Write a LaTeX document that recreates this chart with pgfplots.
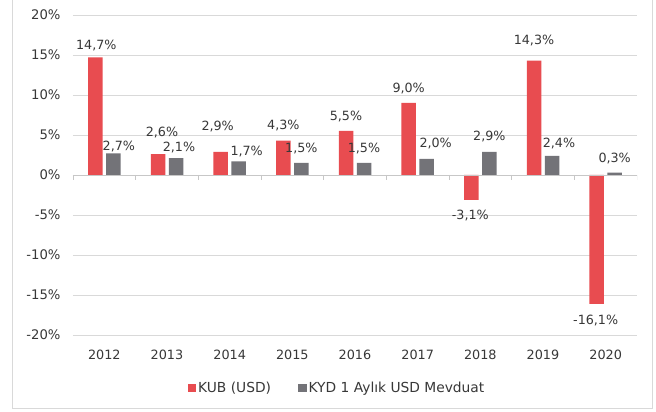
\documentclass[border=0pt]{standalone}
\usepackage{pgfplots}
\usepackage{pgfplotstable}
\pgfplotsset{compat=1.18}
\usepackage{fontspec}
\setmainfont{DejaVu Sans}
\definecolor{kred}{RGB}{232,76,80}
\definecolor{kgray}{RGB}{115,115,120}
\definecolor{gridc}{RGB}{217,217,217}
\definecolor{txt}{RGB}{56,56,56}
\pgfplotstableread{
x y dx dy
0 14.7 1 12
1 2.6 4 22
2 2.9 -3 25
3 4.3 0 15
4 5.5 0 14
5 9.0 0 14
6 -3.1 -1 -16
7 14.3 0 20
8 -16.1 -1 -17
}\kub
\pgfplotstableread{
x y dx dy
0 2.7 5.5 7
1 2.1 3 11
2 1.7 8 10
3 1.5 0 14
4 1.5 0 14
5 2.0 9 15
6 2.9 0 15
7 2.4 7 12
8 0.3 0 14
}\kyd
\begin{document}
\begin{tikzpicture}[font=\fontsize{12.5}{15}\selectfont]
\path[use as bounding box] (0,0) rectangle (656pt,412pt);
\fill[white] (0,0) rectangle (656pt,412pt);
\draw[gridc, line width=1pt] (12pt,3.5pt) rectangle (652pt,413pt);
\begin{axis}[
  at={(73pt,77pt)}, anchor=south west,
  scale only axis, width=564pt, height=320pt,
  ybar=3.5pt, bar width=14.5pt,
  xmin=-0.5, xmax=8.5, ymin=-20, ymax=20,
  ytick={-20,-15,...,20},
  xtick={0,...,8},
  xticklabels={2012,2013,2014,2015,2016,2017,2018,2019,2020},
  axis line style={draw=none},
  major tick length=0pt,
  ymajorgrids, grid style={gridc, line width=0.8pt},
  /pgf/number format/assume math mode=true,
  yticklabel={\pgfmathprintnumber{\tick}\%},
  yticklabel style={xshift=-9pt, text=txt, font=\fontsize{13.2}{15}\selectfont},
  xticklabel style={yshift=-11pt, text=txt, font=\fontsize{12.8}{15}\selectfont},
  visualization depends on={\thisrow{dx}\as\ddx},
  visualization depends on={\thisrow{dy}\as\ddy},
  nodes near coords={\pgfmathprintnumber[fixed,fixed zerofill,precision=1,use comma]{\pgfplotspointmeta}\%},
  every node near coord/.append style={text=txt, font=\fontsize{12.7}{15}\selectfont,
    anchor=center, xshift=\ddx pt, yshift=\ddy pt},
  legend style={at={(0.468,-0.166)}, anchor=center, draw=none, fill=none,
    legend columns=2, font=\fontsize{13.8}{16}\selectfont, text=txt,
    /tikz/every even column/.append style={column sep=25pt},
    /tikz/every odd column/.append style={inner xsep=0pt}},
  legend image code/.code={\fill[#1] (0pt,-4.3pt) rectangle (8.6pt,4.3pt);},
]
\addplot[fill=kred, draw=none] table[x=x, y=y] {\kub};
\addlegendentry{KUB (USD)}
\addplot[fill=kgray, draw=none] table[x=x, y=y] {\kyd};
\addlegendentry{KYD 1 Aylık USD Mevduat}
\draw[gridc!80!gray, line width=0.8pt] (axis cs:-0.5,0) -- (axis cs:8.5,0);
\pgfplotsinvokeforeach{-0.5,0.5,...,8.5}{
  \draw[gridc!80!gray, line width=0.8pt] (axis cs:#1,0) -- ++(0pt,-5pt);
}
\end{axis}
\end{tikzpicture}
\end{document}
